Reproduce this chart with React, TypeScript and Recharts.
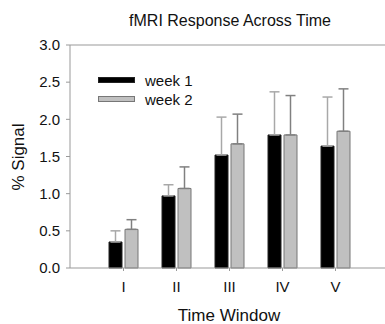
import React from 'react';
import {
  BarChart, Bar, XAxis, YAxis, ErrorBar, ReferenceLine, Customized
} from 'recharts';

const windows = ['I', 'II', 'III', 'IV', 'V'];
const week1 = [0.35, 0.97, 1.52, 1.79, 1.64];
const week2 = [0.52, 1.07, 1.67, 1.79, 1.84];
const week1Err = [0.15, 0.15, 0.51, 0.58, 0.66];
const week2Err = [0.13, 0.29, 0.40, 0.53, 0.57];
const yTicks = [0, 0.5, 1, 1.5, 2, 2.5, 3];
const seriesNames = ['week 1', 'week 2'];

const font = '"Liberation Sans", Arial, sans-serif';

const data = windows.map((w, i) => ({
  window: w,
  week1: week1[i],
  week2: week2[i],
  e1: [0, week1Err[i]],
  e2: [0, week2Err[i]],
}));

const swatches = [
  { fill: '#000', stroke: '#222' },
  { fill: '#c0c0c0', stroke: '#777' },
];

// legend drawn by hand so it doesn't eat plot space
const LegendBox = () => (
  <g fontFamily={font} fill="#111">
    {seriesNames.map((name, i) => (
      <g key={name}>
        <rect
          x={98.5}
          y={77.5 + i * 19}
          width={36}
          height={5}
          fill={swatches[i].fill}
          stroke={swatches[i].stroke}
        />
        <text x={145} y={80 + i * 19} fontSize={15} dominantBaseline="central">
          {name}
        </text>
      </g>
    ))}
  </g>
);

const Titles = () => (
  <g fontFamily={font} fill="#111">
    <text x={230} y={20} fontSize={16} textAnchor="middle" dominantBaseline="central">
      fMRI Response Across Time
    </text>
    <text
      x={18}
      y={157}
      fontSize={17}
      textAnchor="middle"
      dominantBaseline="central"
      transform="rotate(-90 18 157)"
    >
      % Signal
    </text>
    <text x={229} y={315} fontSize={17} textAnchor="middle" dominantBaseline="central">
      Time Window
    </text>
  </g>
);

const App = () => {
  return (
    <div style={{ position: 'absolute', left: 0, top: 0, background: '#fff' }}>
      <BarChart
        width={385}
        height={324}
        data={data}
        margin={{ top: 45, right: 0, bottom: 26, left: 0 }}
        barSize={13}
        barGap={3}
      >
        <XAxis
          dataKey="window"
          height={30}
          padding={{ left: 27, right: 23 }}
          stroke="#999"
          tickSize={3}
          tickMargin={10}
          tick={{ fontSize: 15, fill: '#111', fontFamily: font }}
        />
        <YAxis
          width={70}
          domain={[0, 3]}
          ticks={yTicks}
          tickFormatter={(v: number) => v.toFixed(1)}
          stroke="#999"
          tickSize={4}
          tickMargin={6}
          tick={{ fontSize: 15, fill: '#111', fontFamily: font }}
        />
        <ReferenceLine y={3} stroke="#999" />
        <Bar dataKey="week1" name="week 1" fill="#000" stroke="#222" isAnimationActive={false}>
          <ErrorBar dataKey="e1" direction="y" width={5} stroke="#a8a8a8" strokeWidth={1.5} />
        </Bar>
        <Bar dataKey="week2" name="week 2" fill="#c0c0c0" stroke="#777" isAnimationActive={false}>
          <ErrorBar dataKey="e2" direction="y" width={5} stroke="#808080" strokeWidth={1.5} />
        </Bar>
        <Customized component={LegendBox} />
        <Customized component={Titles} />
      </BarChart>
    </div>
  );
};

export default App;
